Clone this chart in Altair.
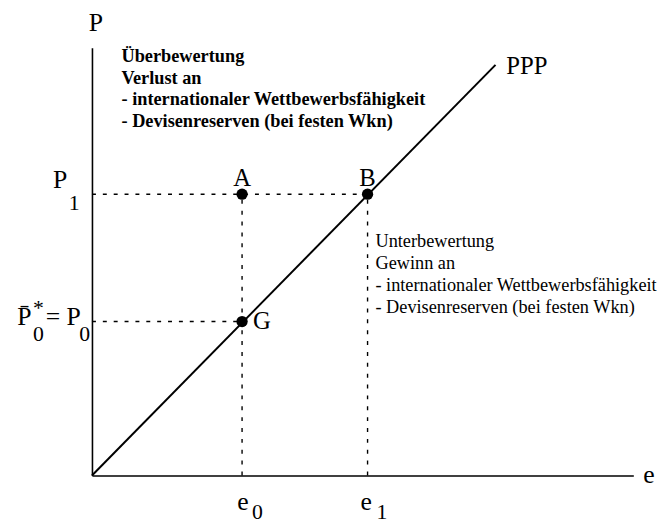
import altair as alt
import pandas as pd

FONT = "Liberation Serif"

# Key values (chart units)
e0, e1 = 3.05, 5.6
P0, P1 = 3.13, 5.72
ppp_e = [0.0, 8.2]
ppp_p = [0.0, 8.35]

point_names = ["A", "B", "G"]
point_e = [e0, e1, e0]
point_p = [P1, P1, P0]

X_MAX, Y_MAX = 11.0, 8.7

xs = alt.Scale(domain=[0, X_MAX], nice=False, zero=False)
ys = alt.Scale(domain=[0, Y_MAX], nice=False, zero=False)
noaxis = alt.Axis(labels=False, ticks=False, grid=False, title=None,
                  domainColor="black", domainWidth=1.6)

# PPP line
ppp_df = pd.DataFrame({"e": ppp_e, "p": ppp_p})
ppp = alt.Chart(ppp_df).mark_line(color="black", strokeWidth=2).encode(
    x=alt.X("e:Q", scale=xs, axis=noaxis),
    y=alt.Y("p:Q", scale=ys, axis=noaxis),
)

# dashed guide lines
dash_df = pd.DataFrame({
    "x1": [0, 0, e0, e1],
    "x2": [e1, e0, e0, e1],
    "y1": [P1, P0, 0, 0],
    "y2": [P1, P0, P1, P1],
})
dashes = alt.Chart(dash_df).mark_rule(color="black", strokeWidth=1.4,
                                      strokeDash=[4, 7]).encode(
    x=alt.X("x1:Q", scale=xs, axis=noaxis), x2="x2:Q",
    y=alt.Y("y1:Q", scale=ys, axis=noaxis), y2="y2:Q",
)

pts_df = pd.DataFrame({"name": point_names, "e": point_e, "p": point_p})
pts = alt.Chart(pts_df).mark_point(filled=True, color="black", size=130,
                                   opacity=1).encode(
    x=alt.X("e:Q", scale=xs), y=alt.Y("p:Q", scale=ys))


def txt(t, e, p, size=25, align="left", baseline="alphabetic", weight="normal", lh=22):
    return alt.Chart(pd.DataFrame({"t": [t], "e": [e], "p": [p]})).mark_text(
        font=FONT, fontSize=size, color="black", align=align, baseline=baseline,
        fontWeight=weight, lineBreak="\n", lineHeight=lh).encode(
        x=alt.X("e:Q", scale=xs), y=alt.Y("p:Q", scale=ys), text="t:N")


labels = [
    # point labels
    txt("A", e0, P1 + 0.16, 25, "center"),
    txt("B", e1, P1 + 0.16, 25, "center"),
    txt("G", e0 + 0.22, P0, 25, "left", "middle"),
    # axis titles and line label
    txt("P", 0.08, 9.2, 26, "center", "middle"),
    txt("e", 11.2, 0.0, 26, "left", "middle"),
    txt("PPP", 8.42, 8.33, 25, "left", "middle"),
    # P1
    txt("P", -0.5, P1 + 0.12, 26, "right"),
    txt("1", -0.47, P1 - 0.32, 22),
    # P0* = P0
    txt("P\u0304", -1.52, P0 - 0.08, 26),
    txt("0", -1.2, P0 - 0.40, 22),
    txt("*", -1.2, P0 + 0.14, 22),
    txt("= P", -0.94, P0 - 0.08, 26),
    txt("0", -0.26, P0 - 0.40, 22),
    # e0, e1
    txt("e", e0 + 0.02, -0.7, 26, "center"),
    txt("0", e0 + 0.2, -0.88, 22),
    txt("e", e1 - 0.03, -0.7, 26, "center"),
    txt("1", e1 + 0.18, -0.88, 22),
    # text blocks
    txt("Überbewertung\nVerlust an\n- internationaler Wettbewerbsfähigkeit\n- Devisenreserven (bei festen Wkn)",
        0.6, 8.71, 18.5, "left", "top", "bold"),
    txt("Unterbewertung\nGewinn an\n- internationaler Wettbewerbsfähigkeit\n- Devisenreserven (bei festen Wkn)",
        5.76, 4.94, 18.5, "left", "top"),
]

chart = alt.layer(dashes, ppp, pts, *labels).properties(
    width=548, height=433,
    autosize="none",
    padding={"left": 85, "top": 37, "right": 26, "bottom": 48},
).configure_view(strokeWidth=0)

chart.save("out.html", embed_options={"renderer": "svg", "actions": False})
